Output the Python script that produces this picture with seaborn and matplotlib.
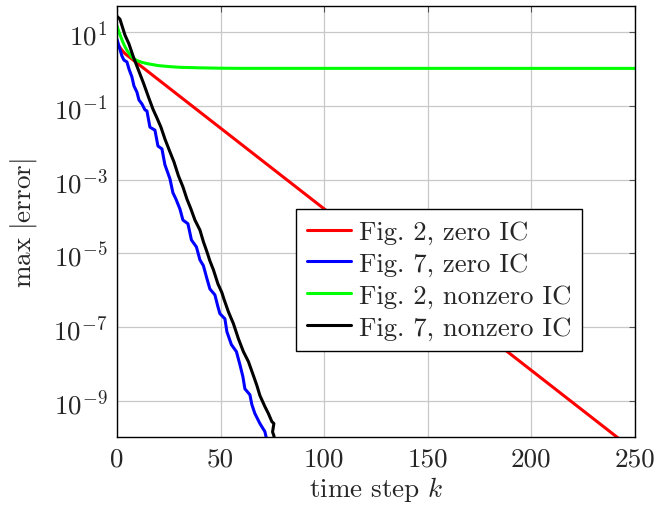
import numpy as np
import pandas as pd
import matplotlib
matplotlib.use("Agg")
import matplotlib.pyplot as plt
import seaborn as sns

# ---- data (y stored as log10 exponents) ----
red_k = [0, 1, 2, 3, 4, 250]
red_log10 = [0.72, 0.62, 0.54, 0.47, 0.41, -10.37]

blue_k = [0, 0.96, 2.41, 3.38, 4.82, 5.79, 7.24, 8.20, 9.65, 10.61, 12.06, 13.51,
          14.47, 15.92, 18.33, 19.78, 21.71, 23.15, 25.57, 27.01, 28.46, 30.39,
          31.84, 34.25, 35.94, 38.35, 40.04, 41.73, 43.42, 44.86, 47.27, 48.72,
          49.69, 52.10, 53.06, 55.23, 57.65, 59.33, 60.78, 61.75, 64.16, 65.12,
          66.57, 68.98, 71.39, 72.84]
blue_log10 = [0.81, 0.62, 0.35, 0.24, 0.19, 0.00, -0.22, -0.46, -0.63, -0.84,
              -0.95, -1.11, -1.14, -1.58, -1.66, -2.09, -2.17, -2.60, -2.98,
              -3.36, -3.53, -3.80, -4.10, -4.20, -4.64, -4.83, -5.18, -5.34,
              -5.69, -5.97, -6.13, -6.45, -6.64, -6.78, -7.13, -7.48, -7.67,
              -8.02, -8.35, -8.68, -8.84, -9.11, -9.35, -9.62, -9.84, -10.2]

green_k = [0, 1, 2, 3, 4, 5, 6, 7, 8, 10, 12, 15, 20, 25, 30, 40, 50, 60, 250]
green_log10 = [1.17, 1.0, 0.85, 0.71, 0.59, 0.49, 0.41, 0.33, 0.28, 0.22, 0.18,
               0.14, 0.09, 0.065, 0.045, 0.03, 0.02, 0.016, 0.015]

black_k = [0, 1.45, 3.86, 5.79, 7.96, 10.37, 12.78, 15.20, 17.37, 19.30, 21.23,
           23.15, 25.57, 27.50, 29.67, 31.84, 33.77, 35.70, 37.63, 40.04, 41.73,
           43.42, 44.86, 46.55, 48.72, 50.65, 51.61, 53.79, 56.20, 58.61, 61.02,
           63.44, 65.85, 67.53, 68.98, 71.39, 73.08, 74.77, 75.73, 75.10, 75.73, 76.2]
black_log10 = [1.43, 1.35, 0.92, 0.68, 0.32, -0.03, -0.38, -0.76, -1.09, -1.33,
               -1.58, -1.90, -2.25, -2.52, -2.90, -3.20, -3.53, -3.80, -4.10,
               -4.37, -4.69, -4.96, -5.21, -5.45, -5.83, -6.07, -6.24, -6.59,
               -6.91, -7.32, -7.67, -7.94, -8.32, -8.59, -8.86, -9.16, -9.35,
               -9.57, -9.62, -9.85, -9.95, -10.2]

labels = ["Fig. 2, zero IC", "Fig. 7, zero IC", "Fig. 2, nonzero IC", "Fig. 7, nonzero IC"]
colors = ["#ff0000", "#0000ff", "#00ff00", "#000000"]
xticks = [0, 50, 100, 150, 200, 250]
ytick_exps = [1, -1, -3, -5, -7, -9]

frames = []
for lab, ks, ls in zip(labels, [red_k, blue_k, green_k, black_k],
                       [red_log10, blue_log10, green_log10, black_log10]):
    frames.append(pd.DataFrame({"k": ks, "err": np.power(10.0, ls), "series": lab}))
df = pd.concat(frames, ignore_index=True)

sns.set_style("white")
plt.rcParams["font.family"] = ["serif"]
plt.rcParams["font.serif"] = ["cmr10", "DejaVu Serif"]
plt.rcParams["mathtext.fontset"] = "cm"
plt.rcParams["axes.formatter.use_mathtext"] = True

FS = 19.5
LFS = 19.2

fig = plt.figure(figsize=(6.57, 5.06), dpi=100)
ax = fig.add_axes([0.178, 0.1334, 0.7885, 0.8522])

sns.lineplot(data=df, x="k", y="err", hue="series", hue_order=labels,
             palette=dict(zip(labels, colors)), sort=False, estimator=None,
             linewidth=2.2, ax=ax)

ax.set_yscale("log")
ax.set_xlim(0, 250)
ax.set_ylim(1e-10, 10 ** 1.70)
ax.set_xticks(xticks)
ax.set_xticklabels([str(t) for t in xticks])
ax.set_yticks([10.0 ** e for e in ytick_exps])
ax.set_yticklabels([r"$10^{%d}$" % e for e in ytick_exps])
ax.yaxis.set_minor_locator(matplotlib.ticker.NullLocator())
ax.grid(True, color="#c8c8c8", linewidth=0.9)
ax.set_axisbelow(True)
for s in ax.spines.values():
    s.set_color("black")
    s.set_linewidth(1.0)
ax.tick_params(direction="in", top=True, right=True, length=4, width=0.8,
               color="#555555", labelsize=FS, pad=7)

ax.set_xlabel(r"time step $k$", fontsize=FS, labelpad=2.5)
ax.set_ylabel(r"$\max\ |\mathrm{error}|$", fontsize=FS, labelpad=10)

leg = ax.legend(loc="upper left", bbox_to_anchor=((296 - 117) / 518, 1 - (210 - 7.3) / 431.2),
                fontsize=LFS, frameon=True, fancybox=False, edgecolor="black",
                framealpha=1, borderpad=0.42, labelspacing=0.3, handlelength=1.65,
                handletextpad=0.28, borderaxespad=0)
leg.get_frame().set_linewidth(1.0)
for h in leg.get_lines():
    h.set_linewidth(2.2)

fig.savefig("out.png", dpi=100)
